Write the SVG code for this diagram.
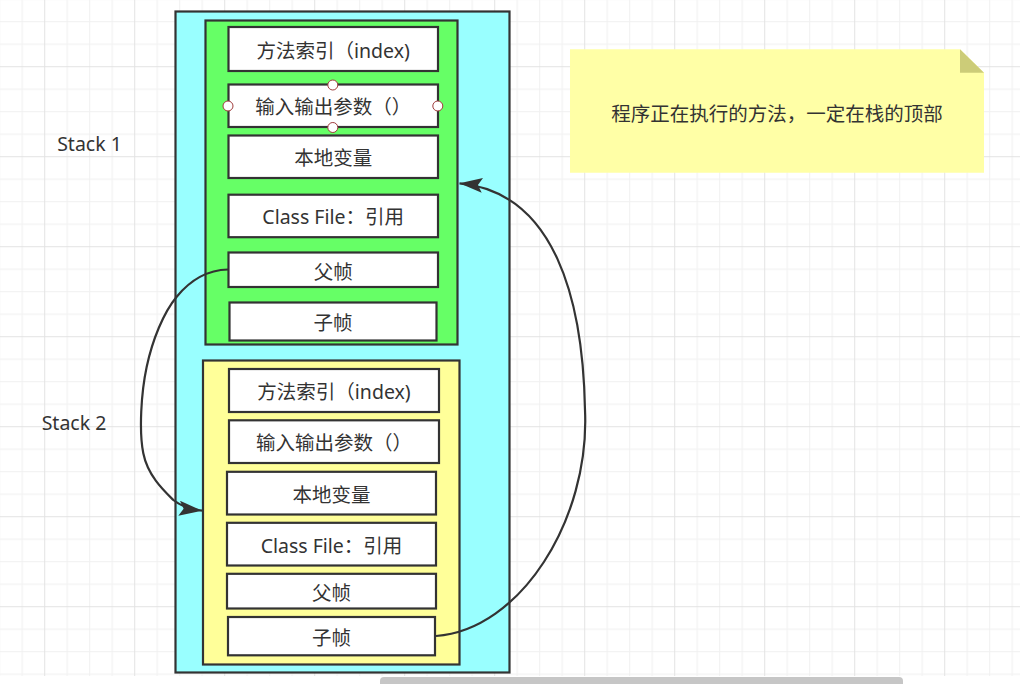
<svg xmlns="http://www.w3.org/2000/svg" width="1020" height="684" viewBox="0 0 1020 684">
  <style>
    .lbl { font-family: "Noto Sans", "Noto Sans CJK SC", sans-serif; font-size: 19.5px; fill: #333333; text-anchor: middle; }
    .cell { fill: #ffffff; stroke: #333333; stroke-width: 2.2; }
    .frame { stroke: #333333; stroke-width: 2.2; }
    .handle { fill: #ffffff; stroke: #a03c3c; stroke-width: 1; }
    .edge { fill: none; stroke: #333333; stroke-width: 2.2; }
  </style>
  <defs>
    <!-- canvas grid: minor every 22.5, major every 90 -->
    <pattern id="grid" patternUnits="userSpaceOnUse" x="44.2" y="66.2" width="90" height="90">
      <path d="M23 0V90M45.5 0V90M68 0V90M0 23H90M0 45.5H90M0 68H90" stroke="#f0f0f0" stroke-width="1" fill="none"/>
      <path d="M0.5 0V90M0 0.5H90" stroke="#e3e3e3" stroke-width="1" fill="none"/>
    </pattern>
    <marker id="arrow" markerUnits="userSpaceOnUse" markerWidth="24" markerHeight="16" refX="23" refY="7.5" orient="auto">
      <path d="M0,0 L23,7.5 L0,15 L4.5,7.5 Z" fill="#333333"/>
    </marker>
  </defs>

  <rect x="0" y="0" width="1020" height="684" fill="#ffffff"/>
  <rect x="0" y="0" width="1020" height="676" fill="url(#grid)"/>

  <!-- side labels -->
  <g id="label-stack1"><text class="lbl" x="89.5" y="151">Stack 1</text></g>
  <g id="label-stack2"><text class="lbl" x="74" y="430">Stack 2</text></g>

  <!-- thread stack container -->
  <g id="stack">
    <rect class="frame" x="175.5" y="11.5" width="334" height="661" fill="#99ffff"/>
  </g>

  <!-- frame 1 (current) -->
  <g id="frame1">
    <rect class="frame" x="205.5" y="20.5" width="252" height="324" fill="#66ff66"/>
  </g>
  <g id="f1-index">
    <rect class="cell" x="228.5" y="27" width="209.5" height="44"/>
    <text class="lbl" x="333.2" y="58">方法索引（index)</text>
  </g>
  <g id="f1-io">
    <rect class="cell" x="228.5" y="84.5" width="209.5" height="42.5"/>
    <text class="lbl" x="333.2" y="114.3">输入输出参数（）</text>
    <circle class="handle" cx="332.8" cy="85" r="5"/>
    <circle class="handle" cx="332.8" cy="127.5" r="5"/>
    <circle class="handle" cx="228" cy="106" r="5"/>
    <circle class="handle" cx="437.8" cy="106" r="5"/>
  </g>
  <g id="f1-locals">
    <rect class="cell" x="228.5" y="135.5" width="209.5" height="42.5"/>
    <text class="lbl" x="333.2" y="165.2">本地变量</text>
  </g>
  <g id="f1-classfile">
    <rect class="cell" x="228.5" y="194.7" width="209.5" height="42.5"/>
    <text class="lbl" x="333.2" y="224.3">Class File：引用</text>
  </g>
  <g id="f1-parent">
    <rect class="cell" x="228.5" y="252.5" width="209.5" height="34.5"/>
    <text class="lbl" x="333.2" y="278.5">父帧</text>
  </g>
  <g id="f1-child">
    <rect class="cell" x="229.5" y="302.5" width="207" height="38"/>
    <text class="lbl" x="333" y="330">子帧</text>
  </g>

  <!-- frame 2 -->
  <g id="frame2">
    <rect class="frame" x="203" y="360.5" width="256.5" height="304" fill="#ffff99"/>
  </g>
  <g id="f2-index">
    <rect class="cell" x="229" y="369" width="210" height="43"/>
    <text class="lbl" x="334" y="399">方法索引（index)</text>
  </g>
  <g id="f2-io">
    <rect class="cell" x="229" y="420.3" width="210" height="42.7"/>
    <text class="lbl" x="334" y="450.2">输入输出参数（）</text>
  </g>
  <g id="f2-locals">
    <rect class="cell" x="227" y="471.8" width="209" height="42.7"/>
    <text class="lbl" x="331.5" y="501.7">本地变量</text>
  </g>
  <g id="f2-classfile">
    <rect class="cell" x="227" y="522.8" width="209" height="42.7"/>
    <text class="lbl" x="331.5" y="552.7">Class File：引用</text>
  </g>
  <g id="f2-parent">
    <rect class="cell" x="227" y="573.8" width="209" height="34.7"/>
    <text class="lbl" x="331.5" y="599.7">父帧</text>
  </g>
  <g id="f2-child">
    <rect class="cell" x="228" y="617" width="207" height="38.3"/>
    <text class="lbl" x="331.5" y="644.7">子帧</text>
  </g>

  <!-- note -->
  <g id="note">
    <path d="M570 49.3H960L984 72.7V172.7H570Z" fill="#ffffa6"/>
    <path d="M960 49.3L984 72.7H960Z" fill="#cccc78"/>
    <text class="lbl" x="777" y="120.5">程序正在执行的方法，一定在栈的顶部</text>
  </g>

  <!-- connectors -->
  <g id="connectors">
    <path class="edge" d="M228 269.5C208 270 190 280.5 176.7 296.7C163.2 312.9 152.3 340.6 146.7 366.7C141.1 392.8 138.9 431.1 143.3 453.3C147.7 475.5 163.5 490.4 173.3 500C181 506 192 509.6 202 510.7" marker-end="url(#arrow)"/>
    <path class="edge" d="M436 636C520 630 590 520 585 410C583 300 555 192 459.5 183.3" marker-end="url(#arrow)"/>
  </g>

  <!-- horizontal scrollbar -->
  <rect x="380" y="677" width="523" height="12" rx="4" fill="#c6c6c6"/>
</svg>
